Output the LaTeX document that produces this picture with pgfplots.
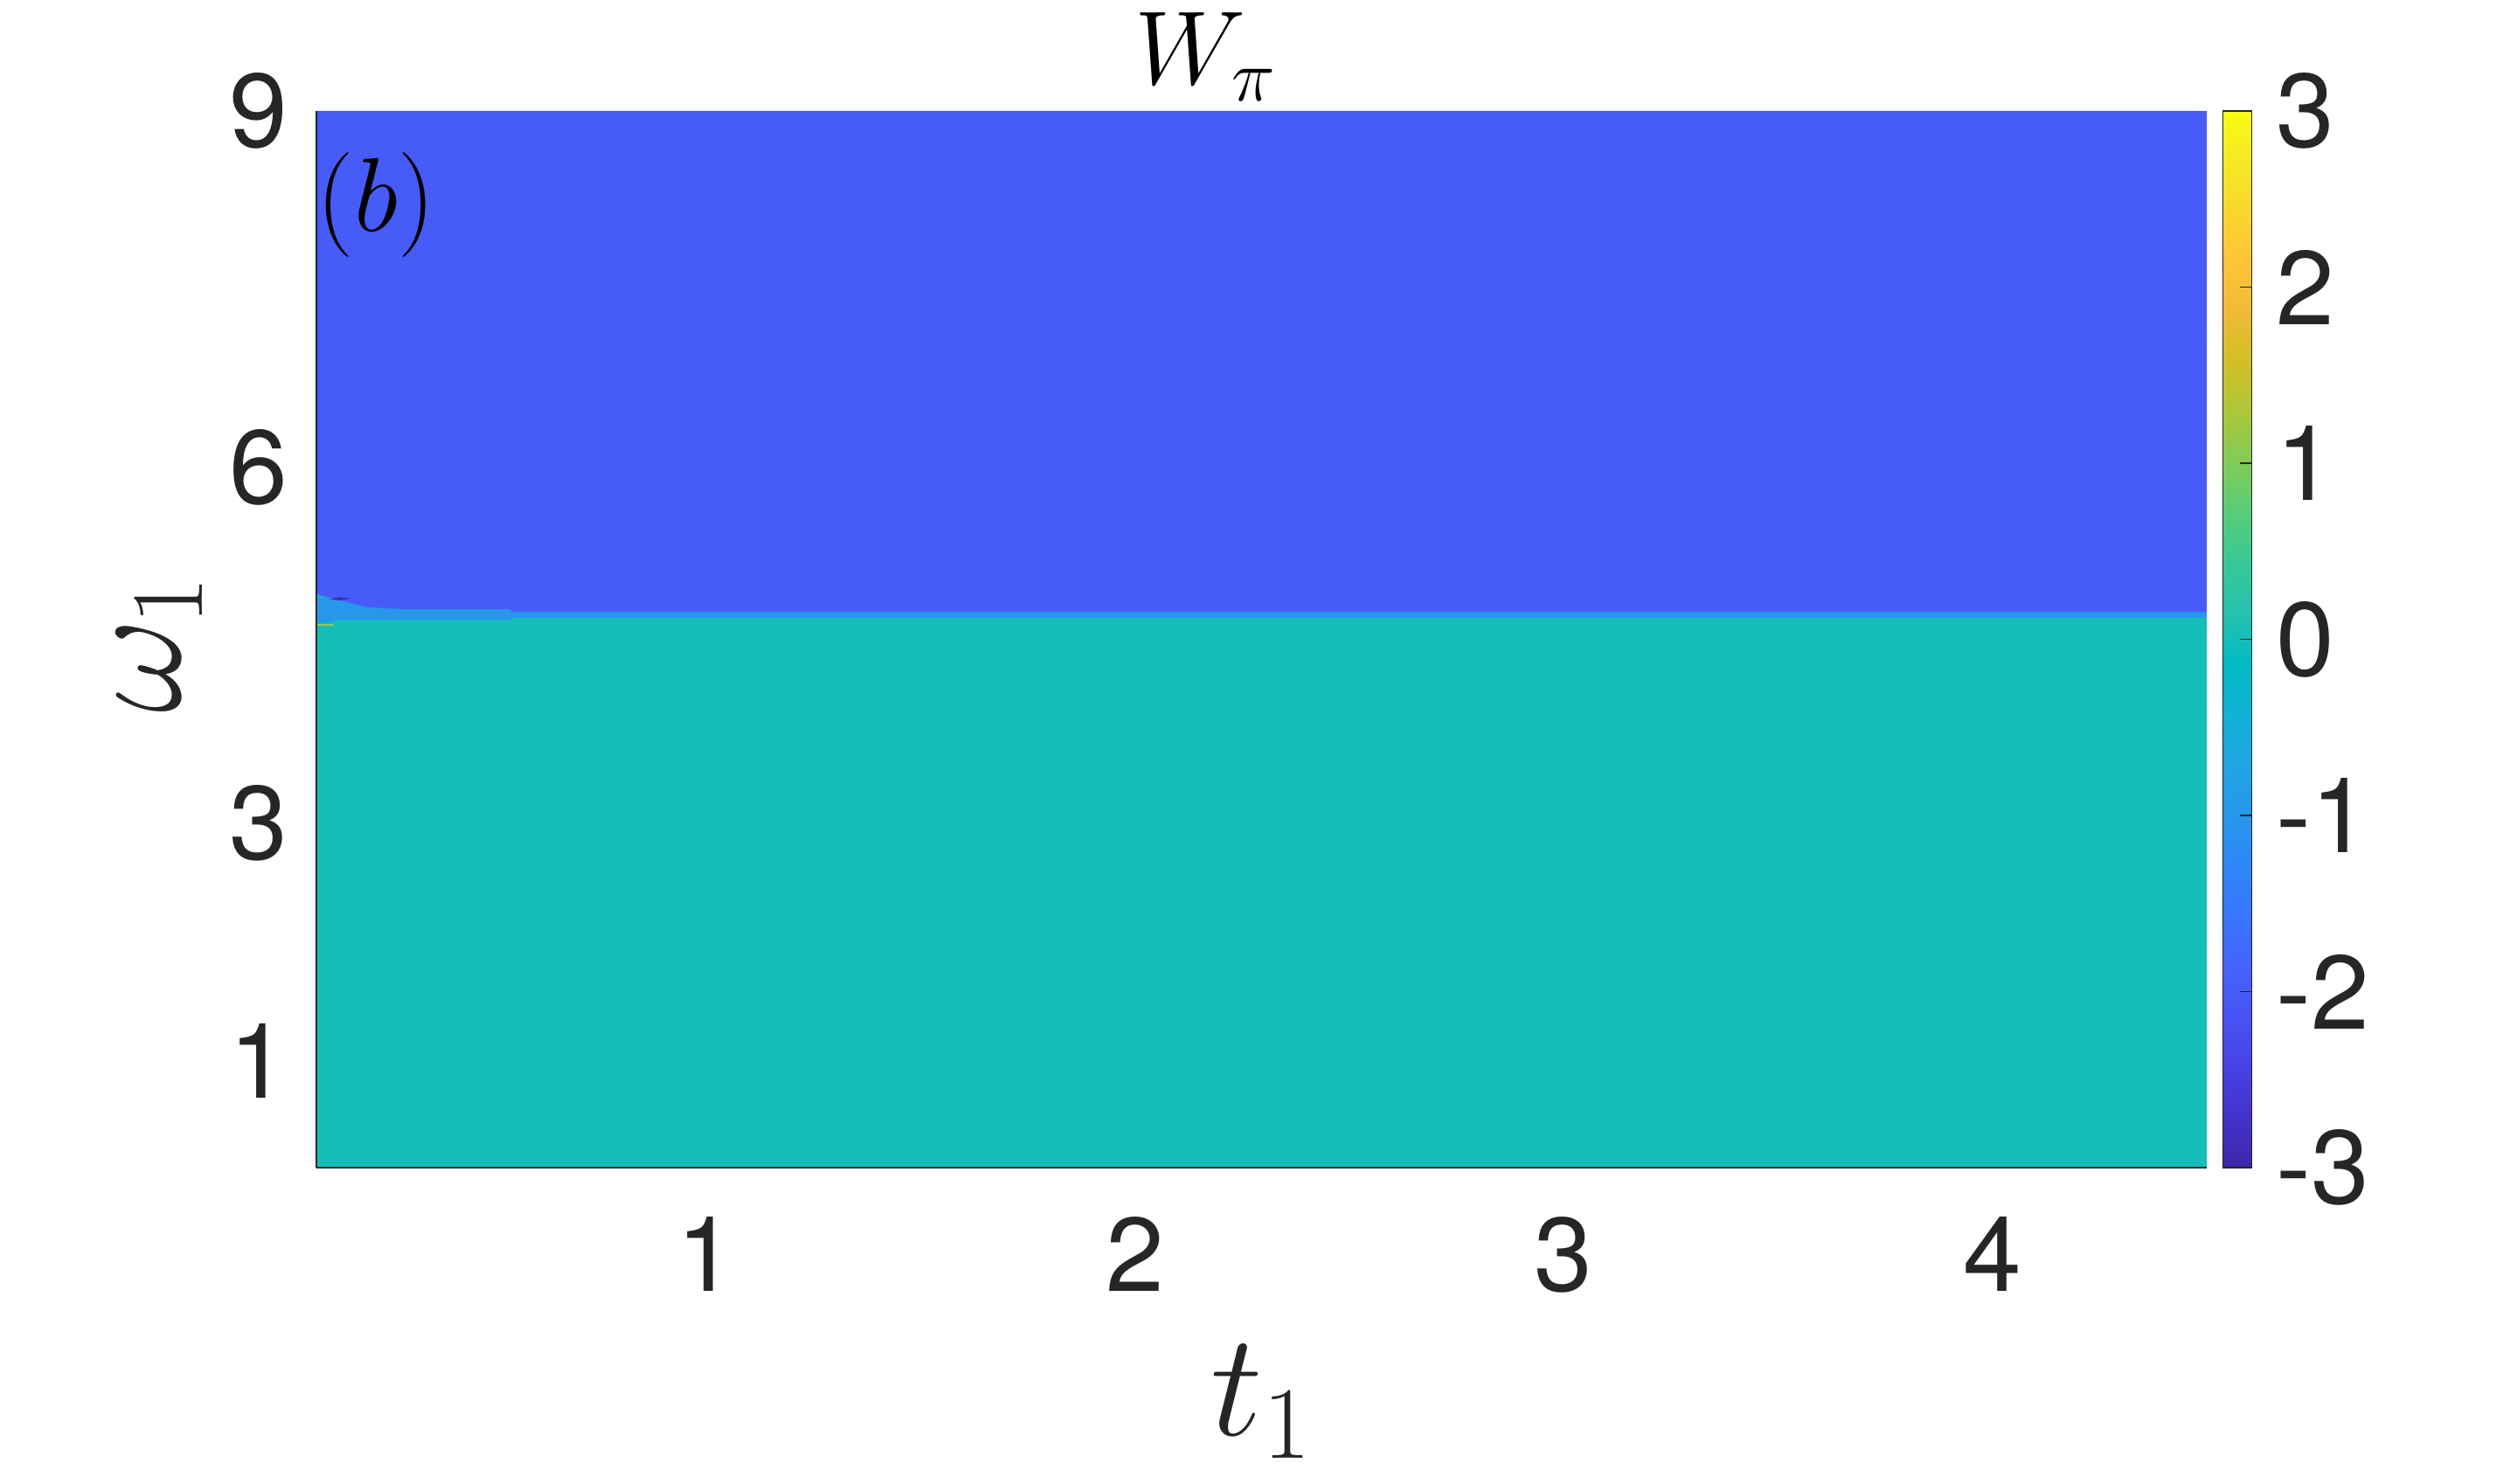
\RequirePackage{fix-cm}
\documentclass[border=0pt]{standalone}
\usepackage{fontspec}
\newfontfamily\helv{TeX Gyre Heros}
\usepackage{pgfplots}
\pgfplotsset{compat=1.18}

\definecolor{tickgray}{HTML}{262626}
\definecolor{wblue}{rgb}{0.278,0.357,0.977}
\definecolor{wteal}{rgb}{0.075,0.745,0.722}
\definecolor{wband}{rgb}{0.154,0.590,0.922}
\definecolor{wspot}{rgb}{0.25,0.17,0.70}
\definecolor{wline}{rgb}{0.60,0.79,0.30}
\definecolor{wcyan}{rgb}{0.10,0.70,0.85}

% parula (R2014b), every third entry
\pgfplotsset{colormap={parula}{
  rgb=(0.2422,0.1504,0.6603) rgb=(0.2647,0.1978,0.7952) rgb=(0.2783,0.2559,0.8991)
  rgb=(0.2810,0.3228,0.9579) rgb=(0.2699,0.3892,0.9906) rgb=(0.2206,0.4603,0.9973)
  rgb=(0.1786,0.5289,0.9682) rgb=(0.1540,0.5902,0.9218) rgb=(0.1248,0.6459,0.8883)
  rgb=(0.0689,0.6948,0.8394) rgb=(0.0067,0.7312,0.7660) rgb=(0.1408,0.7584,0.6842)
  rgb=(0.2161,0.7843,0.5923) rgb=(0.3406,0.8008,0.4789) rgb=(0.5044,0.7993,0.3480)
  rgb=(0.6720,0.7793,0.2227) rgb=(0.8203,0.7498,0.1535) rgb=(0.9393,0.7288,0.2100)
  rgb=(0.9970,0.7659,0.2199) rgb=(0.9786,0.8386,0.1766) rgb=(0.9597,0.9135,0.1423)
  rgb=(0.9769,0.9839,0.0805)}}

\newcommand{\tickfont}{\fontsize{30}{36}\selectfont\helv}

\begin{document}
\begin{tikzpicture}
\useasboundingbox (-90.5pt,-90.5pt) rectangle (629.5pt,334pt);
\begin{axis}[
  scale only axis,
  width=540.75pt, height=302.25pt,
  at={(0,0)}, anchor=south west,
  xmin=0.09, xmax=4.5, ymin=0.1, ymax=9,
  xtick={1,2,3,4}, ytick={1,3,6,9},
  axis x line*=bottom, axis y line*=left,
  axis line style={color=tickgray, line width=0.6pt},
  axis on top,
  major tick length=0pt,
  /pgf/number format/assume math mode=true,
  tick label style={font=\tickfont, text=tickgray, inner sep=0pt},
  xticklabel style={anchor=north, yshift=-14pt},
  yticklabel style={anchor=east, xshift=-8pt},
  xlabel={$t_1$},
  xlabel style={at={(axis description cs:0.5,0)}, anchor=base, yshift=-76.75pt,
    font=\fontsize{42}{50}\selectfont, text=tickgray, inner sep=0pt},
  ylabel={$\omega_1$},
  ylabel style={at={(axis description cs:-0.0721,0.495)}, anchor=base,
    font=\fontsize{42}{50}\selectfont, text=tickgray, inner sep=0pt},
  title={$W_\pi$},
  title style={at={(axis description cs:0.4707,1)}, anchor=base, yshift=1.5pt,
    font=\fontsize{30}{36}\selectfont, inner sep=0pt},
  colormap name=parula,
  colorbar,
  point meta min=-3, point meta max=3,
  colorbar style={
    at={(parent axis.north east)}, anchor=north west, xshift=-4pt,
    width=8.25pt,
    ytick={-3,-2,-1,0,1,2,3},
    yticklabels={-3,-2,-1,0,1,2,3},
    ytick pos=right, yticklabel pos=right,
    tick align=inside,
    major tick length=3.25pt,
    tick style={color=tickgray, line width=0.3pt},
    axis line style={color=tickgray, line width=0.3pt},
    yticklabel style={font=\tickfont, text=tickgray, anchor=west, xshift=7pt, inner sep=0pt},
  },
]
% light blue transition band
\addplot[fill=wband, draw=none] coordinates {
  (0.09,4.60) (4.5,4.60) (4.5,5.00) (0.09,5.00)} -- cycle;
% W = -2 region (upper)
\addplot[fill=wblue, draw=none] coordinates {
  (0.09,9) (4.5,9) (4.5,4.78) (0.55,4.78) (0.54,4.805)
  (0.29,4.805) (0.21,4.82) (0.09,4.93)} -- cycle;
% W = 0 region (lower)
\addplot[fill=wteal, draw=none] coordinates {
  (0.09,0.1) (4.5,0.1) (4.5,4.73) (0.55,4.73) (0.54,4.71)
  (0.13,4.71) (0.13,4.69) (0.09,4.69)} -- cycle;
% small features near the left edge
\addplot[fill=wline, draw=none] coordinates {
  (0.09,4.665) (0.13,4.665) (0.13,4.68) (0.09,4.68)} -- cycle;
\addplot[fill=wspot, draw=none] coordinates {
  (0.12,4.89) (0.145,4.905) (0.17,4.893) (0.145,4.878)} -- cycle;
\addplot[fill=wcyan, draw=none] coordinates {
  (0.09,4.90) (0.115,4.89) (0.09,4.93)} -- cycle;
\node[anchor=base west, inner sep=0pt, font=\fontsize{30}{36}\selectfont]
  at (rel axis cs:0,0.886) {$(b)$};
\end{axis}
\end{tikzpicture}
\end{document}
